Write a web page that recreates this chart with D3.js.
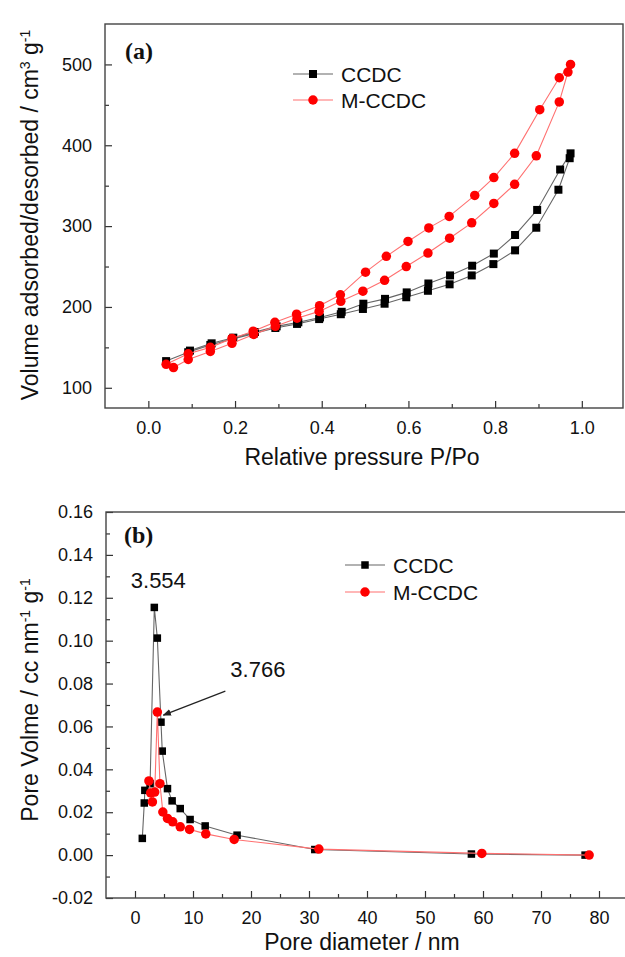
<!DOCTYPE html>
<html>
<head>
<meta charset="utf-8">
<script src="https://cdn.jsdelivr.net/npm/d3@7"></script>
<style>
  body { margin: 0; background: #fff; }
  text { font-family: "Liberation Sans", Arial, sans-serif; fill: #111; }
</style>
</head>
<body>
<div id="chart"></div>
<script>
// Panel (a): N2 isotherms
var ccdcAdsP = [0.041, 0.092, 0.143, 0.193, 0.243, 0.293, 0.343, 0.394, 0.444, 0.495, 0.545, 0.595, 0.645, 0.695, 0.746, 0.796, 0.846, 0.895, 0.946, 0.972];
var ccdcAdsV = [133, 144, 153, 160, 167, 174, 179, 185, 191, 197.5, 204, 212, 220, 228, 239, 253, 270, 298, 345, 384];
var ccdcDesP = [0.974, 0.95, 0.897, 0.846, 0.797, 0.747, 0.696, 0.646, 0.596, 0.546, 0.496, 0.446, 0.396, 0.346, 0.296, 0.246, 0.196, 0.146, 0.096];
var ccdcDesV = [390, 370, 320, 289, 266, 251, 239, 229, 218, 210, 204, 194, 187, 181, 176, 169, 162, 155, 146];

var mAdsP = [0.058, 0.092, 0.143, 0.193, 0.243, 0.293, 0.343, 0.394, 0.444, 0.495, 0.545, 0.595, 0.645, 0.695, 0.746, 0.797, 0.845, 0.895, 0.948, 0.968];
var mAdsV = [125, 135, 145, 155, 166, 176, 186, 194.5, 207, 219.5, 233, 250, 266.7, 285, 304, 328, 351.7, 387, 453.6, 490.6];
var mDesP = [0.974, 0.948, 0.903, 0.845, 0.797, 0.753, 0.694, 0.647, 0.599, 0.549, 0.501, 0.443, 0.395, 0.342, 0.292, 0.242, 0.193, 0.143, 0.092, 0.041];
var mDesV = [500, 483.5, 444, 390, 360, 338, 312, 297.8, 281, 262.6, 243, 215, 201.6, 191, 181, 170, 161, 150, 142, 129];

// Panel (b): pore size distribution
var ccdcD = [1.26, 1.6, 1.7, 2.6, 3.33, 3.85, 4.48, 4.7, 5.6, 6.4, 7.8, 9.5, 12.1, 17.6, 31.0, 58.0, 77.6];
var ccdcPV = [0.0078, 0.0243, 0.0302, 0.0333, 0.1155, 0.1012, 0.062, 0.0485, 0.031, 0.0253, 0.0217, 0.0166, 0.0136, 0.0093, 0.0026, 0.0005, 0.0];
var mD = [2.4, 2.7, 3.0, 3.4, 3.85, 4.3, 4.8, 5.6, 6.5, 7.8, 9.4, 12.2, 17.1, 31.7, 59.8, 78.3];
var mPV = [0.0346, 0.029, 0.0248, 0.0294, 0.0667, 0.0333, 0.0201, 0.0171, 0.0155, 0.0132, 0.012, 0.0099, 0.0073, 0.0028, 0.0008, 0.0];

// ticks
var aXTicks = [0, 0.2, 0.4, 0.6, 0.8, 1.0];
var aXMinor = [0.1, 0.3, 0.5, 0.7, 0.9];
var aYTicks = [100, 200, 300, 400, 500];
var aYMinor = [150, 250, 350, 450];
var bXTicks = [0, 10, 20, 30, 40, 50, 60, 70, 80];
var bXMinor = [5, 15, 25, 35, 45, 55, 65, 75];
var bYTicks = [-0.02, 0, 0.02, 0.04, 0.06, 0.08, 0.10, 0.12, 0.14, 0.16];
var bYMinor = [-0.01, 0.01, 0.03, 0.05, 0.07, 0.09, 0.11, 0.13, 0.15];

var seriesNames = ["CCDC", "M-CCDC"];

var svg = d3.select("#chart").append("svg")
  .attr("width", 625)
  .attr("height", 957);

svg.append("rect").attr("width", 625).attr("height", 957).attr("fill", "#fff");

function zip(xs, ys) { return xs.map(function (x, i) { return [x, ys[i]]; }); }

// draw one framed panel with inward ticks
function panel(x, y, o) {
  var g = svg.append("g");
  var x0 = x.range()[0], x1 = x.range()[1], y0 = y.range()[0], y1 = y.range()[1];

  var xAxis = d3.axisBottom(x).tickValues(o.xTicks).tickFormat(o.xFmt).tickSizeInner(-7).tickSizeOuter(0).tickPadding(13);
  var xMin = d3.axisBottom(x).tickValues(o.xMinor).tickFormat("").tickSizeInner(-4).tickSizeOuter(0);
  var yAxis = d3.axisLeft(y).tickValues(o.yTicks).tickFormat(o.yFmt).tickSizeInner(-7).tickSizeOuter(0).tickPadding(13);
  var yMin = d3.axisLeft(y).tickValues(o.yMinor).tickFormat("").tickSizeInner(-4).tickSizeOuter(0);

  [xAxis, xMin].forEach(function (a) {
    g.append("g").attr("transform", "translate(0," + y0 + ")").call(a);
  });
  [yAxis, yMin].forEach(function (a) {
    g.append("g").attr("transform", "translate(" + x0 + ",0)").call(a);
  });
  g.selectAll(".domain").remove();
  g.selectAll(".tick line").attr("stroke", "#333").attr("stroke-width", 1.2);
  g.selectAll(".tick text").style("font-size", "18px").attr("fill", "#111")
    .style("font-family", "'Liberation Sans', Arial, sans-serif");

  g.append("rect")
    .attr("x", x0).attr("y", y1)
    .attr("width", x1 - x0).attr("height", y0 - y1)
    .attr("fill", "none").attr("stroke", "#444").attr("stroke-width", 1.4);
  return g;
}

function drawSeries(g, x, y, pts, kind, size) {
  var line = d3.line().x(function (d) { return x(d[0]); }).y(function (d) { return y(d[1]); });
  g.append("path").datum(pts)
    .attr("d", line)
    .attr("fill", "none")
    .attr("stroke", kind === "sq" ? "#666" : "#ff7070")
    .attr("stroke-width", 1.1);
  if (kind === "sq") {
    g.selectAll(null).data(pts).enter().append("rect")
      .attr("x", function (d) { return x(d[0]) - size / 2; })
      .attr("y", function (d) { return y(d[1]) - size / 2; })
      .attr("width", size).attr("height", size)
      .attr("fill", "#000");
  } else {
    g.selectAll(null).data(pts).enter().append("circle")
      .attr("cx", function (d) { return x(d[0]); })
      .attr("cy", function (d) { return y(d[1]); })
      .attr("r", size / 2)
      .attr("fill", "#ff0000");
  }
}

function legend(g, lx, ly, gap, sizeSq, sizeC) {
  seriesNames.forEach(function (name, i) {
    var yy = ly + i * gap;
    g.append("line").attr("x1", lx).attr("x2", lx + 40).attr("y1", yy).attr("y2", yy)
      .attr("stroke", i === 0 ? "#666" : "#ff7070").attr("stroke-width", 1.1);
    if (i === 0) {
      g.append("rect").attr("x", lx + 20 - sizeSq / 2).attr("y", yy - sizeSq / 2)
        .attr("width", sizeSq).attr("height", sizeSq).attr("fill", "#000");
    } else {
      g.append("circle").attr("cx", lx + 20).attr("cy", yy).attr("r", sizeC / 2).attr("fill", "#ff0000");
    }
    g.append("text").attr("x", lx + 48).attr("y", yy + 7.5)
      .style("font-size", "21px").text(name);
  });
}

function fmtMinus(f) { return function (d) { return f(d).replace("\u2212", "-"); }; }

// ---------- Panel (a)
var xa = d3.scaleLinear().domain([-0.1, 1.095]).range([105, 623]);
var ya = d3.scaleLinear().domain([75, 550]).range([408, 24]);

var ga = panel(xa, ya, {
  xTicks: aXTicks, xMinor: aXMinor, xFmt: d3.format(".1f"),
  yTicks: aYTicks, yMinor: aYMinor, yFmt: d3.format("d")
});

drawSeries(ga, xa, ya, zip(ccdcAdsP, ccdcAdsV).concat(zip(ccdcDesP, ccdcDesV)), "sq", 8);
drawSeries(ga, xa, ya, zip(mAdsP, mAdsV).concat(zip(mDesP, mDesV)), "ci", 9.5);

ga.append("text").attr("x", 125).attr("y", 59)
  .style("font-family", "'Liberation Serif', 'Times New Roman', serif")
  .style("font-weight", "bold").style("font-size", "24px").text("(a)");

legend(ga, 293, 74, 26, 8, 9.5);

ga.append("text").attr("x", 362).attr("y", 465).attr("text-anchor", "middle")
  .style("font-size", "23px").text("Relative pressure P/Po");

var ta = ga.append("text").attr("transform", "translate(38,215) rotate(-90)")
  .attr("text-anchor", "middle").style("font-size", "23px");
ta.append("tspan").text("Volume adsorbed/desorbed / cm");
ta.append("tspan").attr("baseline-shift", "super").style("font-size", "14px").text("3");
ta.append("tspan").text(" g");
ta.append("tspan").attr("baseline-shift", "super").style("font-size", "14px").text("-1");

// ---------- Panel (b)
var xb = d3.scaleLinear().domain([-5, 85]).range([106, 628]);
var yb = d3.scaleLinear().domain([-0.02, 0.16]).range([898, 512]);

var gb = panel(xb, yb, {
  xTicks: bXTicks, xMinor: bXMinor, xFmt: d3.format("d"),
  yTicks: bYTicks, yMinor: bYMinor, yFmt: fmtMinus(d3.format(".2f"))
});

drawSeries(gb, xb, yb, zip(ccdcD, ccdcPV), "sq", 7.5);
drawSeries(gb, xb, yb, zip(mD, mPV), "ci", 9.5);

gb.append("text").attr("x", 124).attr("y", 543)
  .style("font-family", "'Liberation Serif', 'Times New Roman', serif")
  .style("font-weight", "bold").style("font-size", "24px").text("(b)");

legend(gb, 345, 565, 27, 7.5, 9.5);

// peak annotations
var pkC = [ccdcD[4], ccdcPV[4]];
var pkM = [mD[4], mPV[4]];
gb.append("text").attr("x", xb(pkC[0]) + 4).attr("y", yb(pkC[1]) - 19)
  .attr("text-anchor", "middle").style("font-size", "22px").text("3.554");

var defs = svg.append("defs");
defs.append("marker").attr("id", "arr").attr("viewBox", "0 0 10 10")
  .attr("refX", 9).attr("refY", 5).attr("markerWidth", 7).attr("markerHeight", 7)
  .attr("orient", "auto")
  .append("path").attr("d", "M0,1 L10,5 L0,9 Z").attr("fill", "#222");

gb.append("line")
  .attr("x1", xb(pkM[0]) + 68).attr("y1", yb(pkM[1]) - 21)
  .attr("x2", xb(pkM[0]) + 6).attr("y2", yb(pkM[1]) + 3)
  .attr("stroke", "#222").attr("stroke-width", 1.2)
  .attr("marker-end", "url(#arr)");
gb.append("text").attr("x", xb(pkM[0]) + 73).attr("y", yb(pkM[1]) - 35)
  .style("font-size", "22px").text("3.766");

gb.append("text").attr("x", 362).attr("y", 950).attr("text-anchor", "middle")
  .style("font-size", "23px").text("Pore diameter / nm");

var tb = gb.append("text").attr("transform", "translate(38,700) rotate(-90)")
  .attr("text-anchor", "middle").style("font-size", "23px");
tb.append("tspan").text("Pore Volme / cc nm");
tb.append("tspan").attr("baseline-shift", "super").style("font-size", "14px").text("-1");
tb.append("tspan").text(" g");
tb.append("tspan").attr("baseline-shift", "super").style("font-size", "14px").text("-1");
</script>
</body>
</html>
